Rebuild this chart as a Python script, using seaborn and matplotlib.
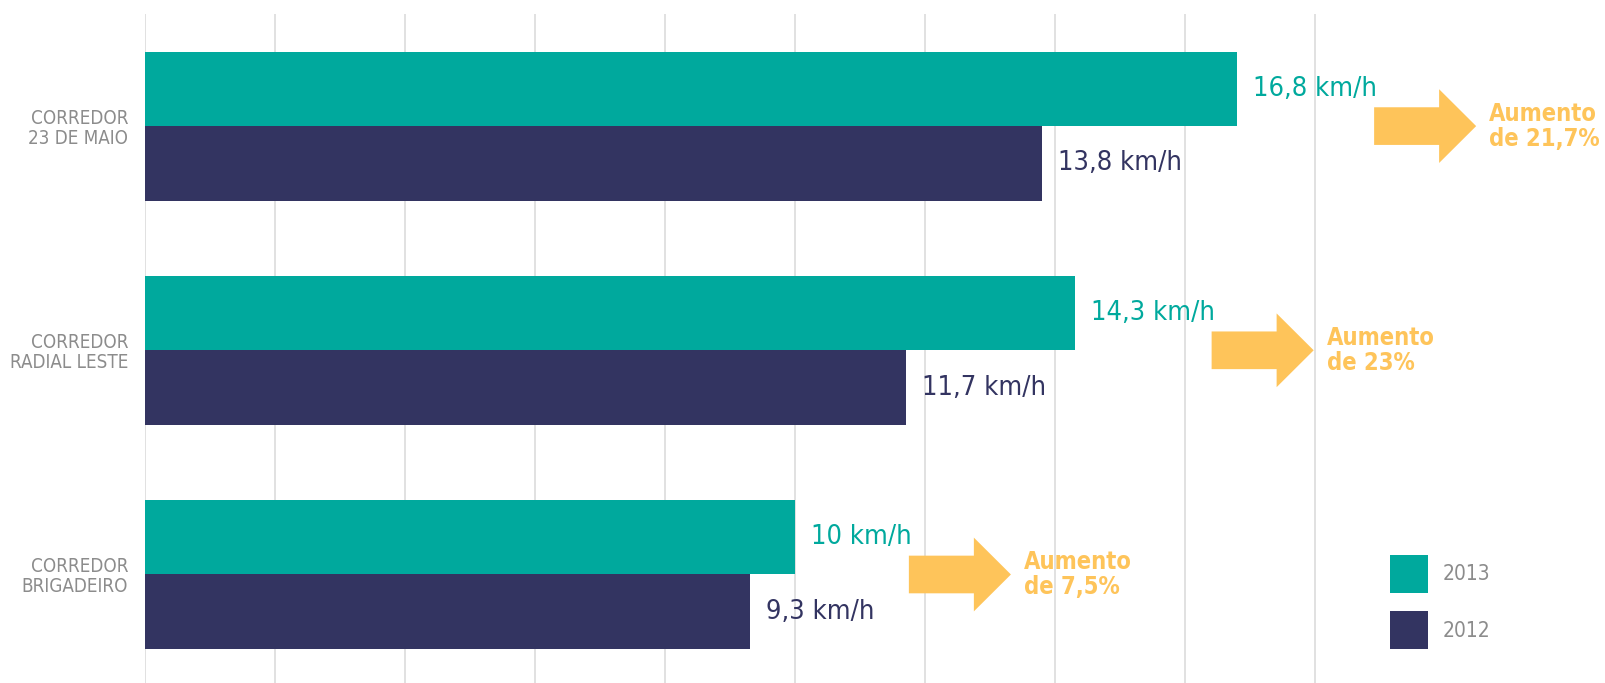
import matplotlib
matplotlib.use("Agg")
import matplotlib.pyplot as plt
from matplotlib.patches import FancyArrow
import pandas as pd
import seaborn as sns

# Average bus speed per corridor (km/h)
corridors = ["CORREDOR\n23 DE MAIO", "CORREDOR\nRADIAL LESTE", "CORREDOR\nBRIGADEIRO"]
years = ["2013", "2012"]
speed_2013 = [16.8, 14.3, 10.0]
speed_2012 = [13.8, 11.7, 9.3]
increase = ["Aumento\nde 21,7%", "Aumento\nde 23%", "Aumento\nde 7,5%"]

TEAL = "#00A99D"
NAVY = "#333461"
ORANGE = "#FEC45A"
GRAY = "#8C8C8C"
GRID = "#DCDCDC"

sns.set_theme(style="white")
plt.rcParams["font.family"] = ["DejaVu Sans"]
plt.rcParams["font.stretch"] = "condensed"

df = pd.DataFrame({
    "corredor": corridors * 2,
    "ano": [years[0]] * 3 + [years[1]] * 3,
    "velocidade": speed_2013 + speed_2012,
})

W, H = 1606, 683
fig = plt.figure(figsize=(W / 100, H / 100), dpi=100)
left = 145.4 / W
ax = fig.add_axes([left, 0, 1 - left, 1 - 14 / H])

sns.barplot(data=df, x="velocidade", y="corredor", hue="ano", hue_order=years,
            order=corridors, palette=[TEAL, NAVY], orient="h", width=0.665,
            saturation=1, linewidth=0, ax=ax, legend=True)

px_per_unit = 65.0
ax.set_xlim(0, (W - 145.4) / px_per_unit)
ax.set_ylim(2.484, -0.5)
ax.set_xticks(range(0, 19, 2))
ax.set_xticklabels([])
ax.xaxis.grid(True, color=GRID, linewidth=1.2)
ax.yaxis.grid(False)
ax.set_axisbelow(True)
for s in ax.spines.values():
    s.set_visible(False)
ax.set_xlabel("")
ax.set_ylabel("")
ax.tick_params(axis="both", length=0)
ax.tick_params(axis="y", pad=12.5, labelsize=13.5, labelcolor=GRAY)
for t in ax.get_yticklabels():
    t.set_linespacing(1.05)


def fmt(v):
    return f"{v:g}".replace(".", ",") + " km/h"


label_texts = []
for cont, vals, col in zip(ax.containers, [speed_2013, speed_2012], [TEAL, NAVY]):
    texts = ax.bar_label(cont, labels=[fmt(v) for v in vals], padding=11.5,
                         color=col, fontsize=19.5)
    label_texts.append(texts)

handles, labels = ax.get_legend_handles_labels()
ax.legend(handles, labels, loc="upper left",
          bbox_to_anchor=(1390 / W, 1 - 555 / H), bbox_transform=fig.transFigure,
          frameon=False, fontsize=15, labelcolor=GRAY, handlelength=1.83,
          handleheight=2.43, labelspacing=0.87, handletextpad=0.72,
          borderpad=0, borderaxespad=0)

# Increase arrows start where each 2013 label ends
fig.canvas.draw()
renderer = fig.canvas.get_renderer()
inv = ax.transData.inverted()
arrow_len = 1.57
for i, (txt, inc) in enumerate(zip(label_texts[0], increase)):
    bb = txt.get_window_extent(renderer)
    x_tail = inv.transform((bb.x1, bb.y0))[0] - 0.05
    arr = FancyArrow(x_tail, i, arrow_len, 0, width=0.168, head_width=0.329,
                     head_length=0.57, length_includes_head=True,
                     color=ORANGE, linewidth=0)
    ax.add_patch(arr)
    ax.annotate(inc, xy=(x_tail + arrow_len, i), xytext=(9.5, 0),
                textcoords="offset points", ha="left", va="center",
                color=ORANGE, fontsize=17, fontweight="semibold",
                linespacing=1.05)

fig.savefig("out.png", dpi=100)
